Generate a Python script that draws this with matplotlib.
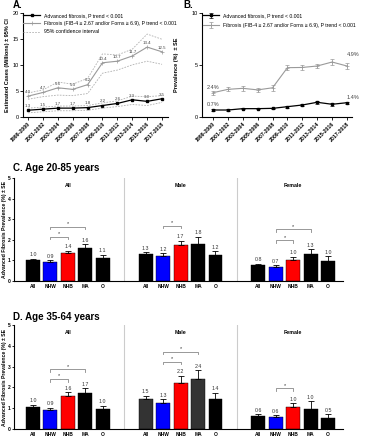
import matplotlib
matplotlib.use("Agg")
import matplotlib.pyplot as plt
import numpy as np

plt.rcParams["font.family"] = ["Liberation Sans", "DejaVu Sans"]

# ---------------------------------------------------------------------------
# Data
# ---------------------------------------------------------------------------
periods = ["1999-2000", "2001-2002", "2003-2004", "2005-2006", "2007-2008",
           "2009-2010", "2011-2012", "2013-2014", "2015-2016", "2017-2018"]

# Panel A: estimated cases (millions)
adv_cases = [1.3, 1.5, 1.7, 1.7, 1.8, 2.2, 2.6, 3.3, 3.0, 3.5]
adv_cases_hi = [1.7, 1.9, 2.1, 2.1, 2.2, 2.7, 3.1, 4.0, 3.9, 4.1]
adv_cases_lo = [0.8, 1.0, 1.2, 1.2, 1.3, 1.7, 2.0, 2.4, 2.2, 2.8]
fib_cases = [4.0, 4.7, 5.6, 5.3, 6.2, 10.4, 10.7, 11.7, 13.4, 12.5]
fib_cases_hi = [4.6, 5.2, 6.7, 6.3, 7.4, 12.1, 11.9, 13.0, 15.9, 14.9]
fib_cases_lo = [3.4, 3.9, 4.2, 4.1, 4.5, 8.4, 9.0, 10.0, 10.7, 10.1]

# Panel B: prevalence (%)
adv_prev = [0.67, 0.67, 0.80, 0.80, 0.83, 0.99, 1.15, 1.41, 1.22, 1.37]
adv_prev_se = [0.08, 0.08, 0.08, 0.08, 0.08, 0.09, 0.13, 0.17, 0.12, 0.11]
fib_prev = [2.33, 2.65, 2.75, 2.60, 2.80, 4.73, 4.75, 4.89, 5.27, 4.89]
fib_prev_se = [0.18, 0.2, 0.22, 0.18, 0.3, 0.25, 0.28, 0.22, 0.28, 0.3]

groups = ["All", "Male", "Female"]
races = ["All", "NHW", "NHB", "MA", "O"]

# Panel C: age 20-85
c_vals = [[1.02, 0.94, 1.35, 1.58, 1.12],
          [1.30, 1.22, 1.74, 1.82, 1.24],
          [0.76, 0.68, 1.03, 1.30, 0.97]]
c_se = [[0.07, 0.07, 0.13, 0.21, 0.15],
        [0.10, 0.12, 0.21, 0.33, 0.21],
        [0.08, 0.09, 0.15, 0.24, 0.22]]
c_labels = [["1.0", "0.9", "1.4", "1.6", "1.1"],
            ["1.3", "1.2", "1.7", "1.8", "1.2"],
            ["0.8", "0.7", "1.0", "1.3", "1.0"]]
c_brackets = [(0, 1, 2, 2.15), (0, 1, 3, 2.64), (1, 1, 2, 2.69),
              (2, 1, 2, 1.99), (2, 1, 3, 2.50)]

# Panel D: age 35-64
d_vals = [[1.04, 0.91, 1.58, 1.71, 0.96],
          [1.45, 1.26, 2.22, 2.40, 1.45],
          [0.62, 0.56, 1.04, 0.97, 0.53]]
d_se = [[0.12, 0.11, 0.19, 0.25, 0.16],
        [0.15, 0.18, 0.34, 0.43, 0.29],
        [0.08, 0.11, 0.19, 0.36, 0.17]]
d_labels = [["1.0", "0.9", "1.6", "1.7", "1.0"],
            ["1.5", "1.3", "2.2", "2.4", "1.4"],
            ["0.6", "0.6", "1.0", "1.0", "0.5"]]
d_brackets = [(0, 1, 2, 2.41), (0, 1, 3, 2.88), (1, 1, 2, 3.24),
              (1, 1, 3, 3.72), (2, 1, 2, 1.96)]

W, H = 367, 440
fig = plt.figure(figsize=(W / 100, H / 100), dpi=100)


def px_axes(x0, y0, x1, y1):
    return fig.add_axes([x0 / W, 1 - y1 / H, (x1 - x0) / W, (y1 - y0) / H])


def style(ax):
    ax.spines["top"].set_visible(False)
    ax.spines["right"].set_visible(False)
    for s in ("left", "bottom"):
        ax.spines[s].set_linewidth(0.8)
    ax.tick_params(length=2, width=0.6, labelsize=4, pad=1)


x = np.arange(len(periods))
GREY = "#9a9a9a"
CI = "#b0b0b0"

# ---------------------------------------------------------------------------
# Panel A
# ---------------------------------------------------------------------------
axA = px_axes(22.7, 12.7, 168, 117)
style(axA)
axA.plot(x, adv_cases, color="black", lw=0.9, marker="s", ms=1.6,
         label="Advanced fibrosis, P trend < 0.001")
axA.plot(x, fib_cases, color=GREY, lw=0.8, marker="+", ms=2.5, mew=0.5,
         label="Fibrosis (FIB-4 \u2265 2.67 and/or Forns \u2265 6.9), P trend < 0.001")
axA.plot(x, fib_cases_hi, color=CI, lw=0.6, ls=(0, (2, 1.5)),
         label="95% confidence interval")
for series in (fib_cases_lo, adv_cases_hi, adv_cases_lo):
    axA.plot(x, series, color=CI, lw=0.6, ls=(0, (2, 1.5)))
for i in range(len(x)):
    axA.text(x[i], fib_cases[i] + 0.8, f"{fib_cases[i]:.1f}", ha="center",
             va="center", fontsize=3.2, color="#444")
    axA.text(x[i], adv_cases[i] + 0.8, f"{adv_cases[i]:.1f}", ha="center",
             va="center", fontsize=3.2, color="#444")
axA.set_xlim(-0.36, 9.4)
axA.set_ylim(0, 20)
axA.set_yticks([0, 5, 10, 15, 20])
axA.set_xticks(x)
axA.set_xticklabels(periods, rotation=45, ha="right", rotation_mode="anchor",
                    fontsize=3.8, fontweight="bold")
axA.set_ylabel("Estimated Cases (Millions) \u00b1 95% CI", fontsize=4,
               fontweight="bold", labelpad=2)
axA.legend(loc="upper left", bbox_to_anchor=(-0.02, 1.03), fontsize=3.7,
           frameon=False, handlelength=3.2, labelspacing=0.6, borderpad=0.2)
fig.text(13 / W, 1 - 5 / H, "A.", fontsize=7, fontweight="bold", va="center")

# ---------------------------------------------------------------------------
# Panel B
# ---------------------------------------------------------------------------
axB = px_axes(202, 12.7, 352, 117)
style(axB)
axB.errorbar(x, adv_prev, yerr=adv_prev_se, color="black", lw=0.9,
             marker="s", ms=1.6, capsize=1.2, elinewidth=0.5, capthick=0.5,
             label="Advanced fibrosis, P trend < 0.001")
axB.errorbar(x, fib_prev, yerr=fib_prev_se, color=GREY, lw=0.8,
             marker="+", ms=2.5, mew=0.5, capsize=1.2, elinewidth=0.5,
             capthick=0.5,
             label="Fibrosis (FIB-4 \u2265 2.67 and/or Forns \u2265 6.9), P trend < 0.001")
axB.text(-0.45, fib_prev[0] + 0.25, "2.4%", fontsize=4, color="#444", va="bottom")
axB.text(-0.45, adv_prev[0] + 0.3, "0.7%", fontsize=4, color="#444", va="bottom")
axB.text(9.0, fib_prev[-1] + 0.85, "4.9%", fontsize=4, color="#444", va="bottom")
axB.text(9.0, adv_prev[-1] + 0.3, "1.4%", fontsize=4, color="#444", va="bottom")
axB.set_xlim(-0.74, 9.34)
axB.set_ylim(0, 10)
axB.set_yticks([0, 5, 10])
axB.set_xticks(x)
axB.set_xticklabels(periods, rotation=45, ha="right", rotation_mode="anchor",
                    fontsize=3.8, fontweight="bold")
axB.set_ylabel("Prevalence (%)  \u00b1 SE", fontsize=4, fontweight="bold",
               labelpad=9)
axB.legend(loc="upper left", bbox_to_anchor=(-0.02, 1.03), fontsize=3.7,
           frameon=False, handlelength=3.2, labelspacing=0.9, borderpad=0.2)
fig.text(183 / W, 1 - 5 / H, "B.", fontsize=7, fontweight="bold", va="center")


# ---------------------------------------------------------------------------
# Panels C and D
# ---------------------------------------------------------------------------
GAP = 6.46
race_colors = ["black", "#0000ff", "#ff0000", "black", "black"]


def bar_panel(ax, vals, ses, labels, brackets, dark_male=False):
    style(ax)
    for g in range(3):
        pos = np.arange(5) + g * GAP
        cols = list(race_colors)
        if dark_male and g == 1:
            cols[0] = "#333333"
            cols[3] = "#333333"
        ax.bar(pos, vals[g], 0.8, color=cols, edgecolor="black", linewidth=0.3)
        ax.errorbar(pos, vals[g], yerr=[np.zeros(5), ses[g]], fmt="none",
                    ecolor="black", elinewidth=0.6, capsize=2, capthick=0.6)
        for i in range(5):
            ax.text(pos[i], vals[g][i] + ses[g][i] + 0.07, labels[g][i],
                    ha="center", va="bottom", fontsize=3.8, color="#333")
        ax.text(pos[2], 4.63, groups[g], ha="center", va="center", fontsize=3.8,
                fontweight="bold")
    for g in (1, 2):
        ax.axvline(g * GAP - (GAP - 4) / 2, color="#cccccc", lw=0.8)
    for g, i1, i2, y in brackets:
        x1, x2 = g * GAP + i1, g * GAP + i2
        ax.plot([x1, x1, x2, x2], [y - 0.13, y, y, y - 0.13], color="#888",
                lw=0.6)
        ax.text((x1 + x2) / 2, y + 0.02, "*", ha="center", va="bottom",
                fontsize=4, color="#333")
    ticks = np.concatenate([np.arange(5) + g * GAP for g in range(3)])
    ax.set_xticks(ticks)
    ax.set_xticklabels(races * 3, fontsize=3.5, fontweight="bold")
    ax.tick_params(axis="x", length=0, pad=2)
    ax.set_xlim(-1.09, 17.77)
    ax.set_ylim(0, 5)
    ax.set_yticks(range(6))
    ax.tick_params(axis="y", labelsize=3.6, pad=0.8, length=1.8)
    for lab in ax.get_yticklabels():
        lab.set_fontweight("bold")
    ax.set_ylabel("Advanced Fibrosis Prevalence (%) \u00b1 SE", fontsize=3.7,
                  fontweight="bold", labelpad=0.5)


axC = px_axes(14, 178, 343, 281)
bar_panel(axC, c_vals, c_se, c_labels, c_brackets)
fig.text(13 / W, 1 - 168 / H, "C. Age 20-85 years", fontsize=7,
         fontweight="bold", va="center")

axD = px_axes(14, 325, 343, 429)
bar_panel(axD, d_vals, d_se, d_labels, d_brackets, dark_male=True)
fig.text(13 / W, 1 - 317 / H, "D. Age 35-64 years", fontsize=7,
         fontweight="bold", va="center")

fig.savefig("out.png", dpi=100)
